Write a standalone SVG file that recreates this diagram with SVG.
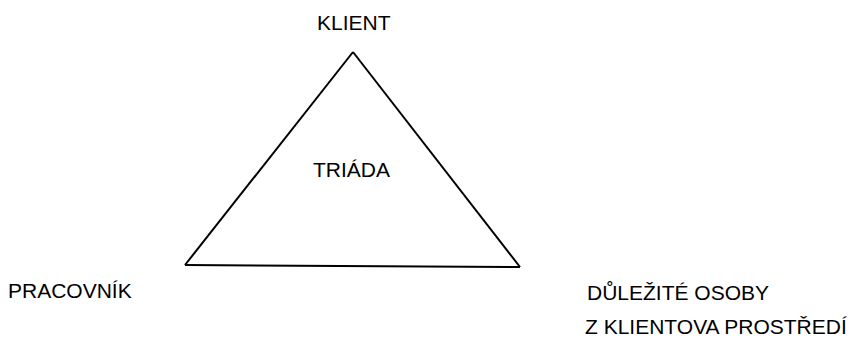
<svg xmlns="http://www.w3.org/2000/svg" width="853" height="339" viewBox="0 0 853 339">
<style>
text{font-family:"Liberation Sans",Arial,sans-serif;font-size:21px;fill:#000}
.edge{stroke:#000;stroke-width:2;fill:none;stroke-linejoin:miter}
</style>
<rect width="853" height="339" fill="#fff"/>
<g id="connectors">
<path class="edge" d="M353 52 L185 265"/>
<path class="edge" d="M353 52 L520 267"/>
<path class="edge" d="M185 265 L520 267"/>
</g>
<g id="klient"><text x="317" y="30">KLIENT</text></g>
<g id="triada"><text x="313" y="177">TRIÁDA</text></g>
<g id="pracovnik"><text x="8" y="298">PRACOVNÍK</text></g>
<g id="osoby"><text x="587" y="300">DŮLEŽITÉ OSOBY</text><text x="585" y="334">Z KLIENTOVA PROSTŘEDÍ</text></g>
</svg>
